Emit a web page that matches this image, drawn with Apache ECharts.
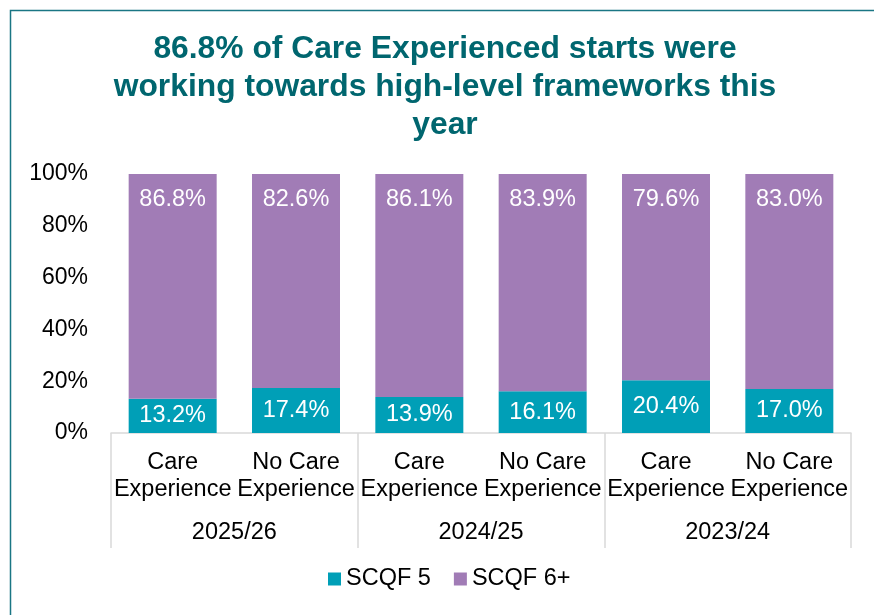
<!DOCTYPE html>
<html>
<head>
<meta charset="utf-8">
<script src="https://cdn.jsdelivr.net/npm/echarts@6/dist/echarts.min.js"></script>
<style>
  html, body { margin: 0; padding: 0; background: #fff; }
  #chart { width: 874px; height: 615px; }
</style>
</head>
<body>
<div id="chart"></div>
<script>
// data
const categories = ['Care\nExperience', 'No Care\nExperience', 'Care\nExperience', 'No Care\nExperience', 'Care\nExperience', 'No Care\nExperience'];
const years = ['2025/26', '2024/25', '2023/24'];
const scqf5 = [13.2, 17.4, 13.9, 16.1, 20.4, 17.0];
const scqf6 = [86.8, 82.6, 86.1, 83.9, 79.6, 83.0];
const yTicks = [0, 20, 40, 60, 80, 100];

const font = "'Liberation Sans', Arial, sans-serif";
const teal = '#009fb7';
const purple = '#a17cb6';
const titleColor = '#00666f';
const gridColor = '#d9d9d9';

const chart = echarts.init(document.getElementById('chart'));

const labelFmt = p => p.value.toFixed(1) + '%';

chart.setOption({
  animation: false,
  backgroundColor: '#fff',
  textStyle: { fontFamily: font },
  graphic: [
    {
      type: 'rect',
      shape: { x: 10.5, y: 10.5, width: 1000, height: 800 },
      style: { fill: 'none', stroke: '#1a7684', lineWidth: 1.5 },
      silent: true
    },
    {
      type: 'text',
      x: 445,
      y: 30,
      style: {
        text: '86.8% of Care Experienced starts were\nworking towards high-level frameworks this\nyear',
        font: 'bold 31.8px ' + font,
        fill: titleColor,
        align: 'center',
        verticalAlign: 'top',
        lineHeight: 38
      }
    }
  ],
  legend: {
    bottom: 19,
    left: 323,
    icon: 'rect',
    itemWidth: 13,
    itemHeight: 13,
    itemGap: 23,
    textStyle: { fontSize: 23.5, color: '#000', fontFamily: font },
    data: ['SCQF 5', 'SCQF 6+']
  },
  grid: { left: 111, right: 23, top: 174, bottom: 182 },
  xAxis: [
    {
      type: 'category',
      data: categories,
      position: 'bottom',
      axisLine: { lineStyle: { color: gridColor, width: 1.5 } },
      axisTick: { show: false },
      axisLabel: {
        interval: 0,
        margin: 16,
        fontSize: 23.5,
        lineHeight: 27,
        color: '#000',
        fontFamily: font
      }
    },
    {
      type: 'category',
      data: years,
      position: 'bottom',
      axisLine: { show: false },
      axisTick: { show: true, length: 115, interval: 0, lineStyle: { color: gridColor, width: 1.5 } },
      axisLabel: { interval: 0, margin: 88, fontSize: 23.5, color: '#000', fontFamily: font }
    }
  ],
  yAxis: {
    type: 'value',
    min: yTicks[0],
    max: yTicks[yTicks.length - 1],
    interval: 20,
    axisLine: { show: false },
    axisTick: { show: false },
    splitLine: { show: false },
    axisLabel: { formatter: '{value}%', fontSize: 23, color: '#000', margin: 23, fontFamily: font }
  },
  series: [
    {
      name: 'SCQF 5',
      type: 'bar',
      stack: 'total',
      data: scqf5,
      barWidth: 88,
      itemStyle: { color: teal },
      label: { show: true, position: 'inside', color: '#fff', fontSize: 23.5, formatter: labelFmt, fontFamily: font }
    },
    {
      name: 'SCQF 6+',
      type: 'bar',
      stack: 'total',
      data: scqf6,
      barWidth: 88,
      itemStyle: { color: purple },
      label: { show: true, position: 'insideTop', distance: 14, color: '#fff', fontSize: 23.5, formatter: labelFmt, fontFamily: font }
    }
  ]
});
</script>
</body>
</html>
